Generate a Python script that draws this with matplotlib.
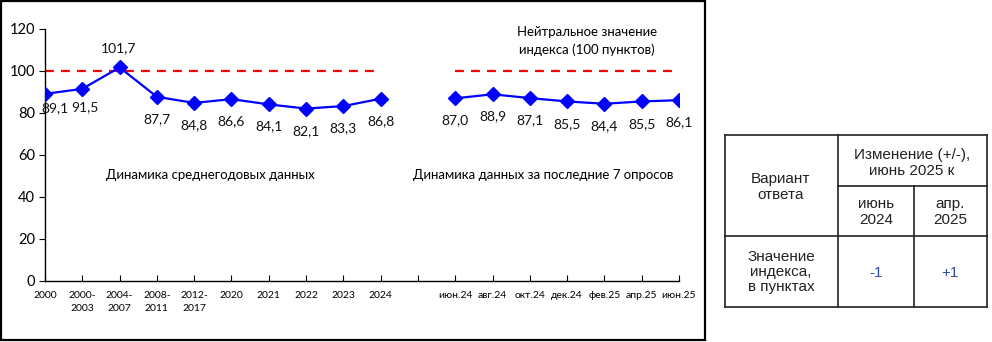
import numpy as np
import matplotlib.pyplot as plt
from matplotlib.lines import Line2D
from matplotlib.patches import Rectangle

# chart data
year_labels = ['2000', '2000-\n2003', '2004-\n2007', '2008-\n2011', '2012-\n2017',
               '2020', '2021', '2022', '2023', '2024']
year_values = [89.1, 91.5, 101.7, 87.7, 84.8, 86.6, 84.1, 82.1, 83.3, 86.8]
survey_labels = ['июн.24', 'авг.24', 'окт.24', 'дек.24', 'фев.25', 'апр.25', 'июн.25']
survey_values = [87.0, 88.9, 87.1, 85.5, 84.4, 85.5, 86.1]
neutral = 100

# table data
table_head = 'Изменение (+/-),\nиюнь 2025 к'
table_cols = ['июнь\n2024', 'апр.\n2025']
table_row = 'Значение\nиндекса,\nв пунктах'
table_vals = ['-1', '+1']

plt.rcParams['font.family'] = ['Lato', 'DejaVu Sans']

W, H = 992, 342
fig = plt.figure(figsize=(W / 100, H / 100), dpi=100)

def fx(px):
    return px / W

def fy(py):
    return 1 - py / H

# outer frame of the chart
fig.add_artist(Rectangle((fx(1), fy(340)), fx(705) - fx(1), fy(1) - fy(340),
                         transform=fig.transFigure, fill=False, ec='black', lw=1.6))

ax = fig.add_axes([fx(45), fy(281), fx(679) - fx(45), fy(29) - fy(281)])

labels = year_labels + [''] + survey_labels
values = year_values + [np.nan] + survey_values
x = np.arange(len(labels))
ref = [neutral if not np.isnan(v) else np.nan for v in values]

ax.plot(x, ref, color='#ff0000', lw=1.6, ls=(0, (4, 3.2)), zorder=2)
ax.plot(x, values, color='#0000ff', lw=1.6, marker='D', ms=7,
        mfc='#0000ff', mec='#0000ff', zorder=3)

offsets = {0: (7, -10), 1: (2, -13), 2: (-1, 14)}
for i, v in enumerate(values):
    if np.isnan(v):
        continue
    dx, dy = offsets.get(i, (0, -16))
    ax.annotate(f'{v:.1f}'.replace('.', ','), (x[i], v), xytext=(dx, dy),
                textcoords='offset points', ha='center', va='center',
                fontsize=10, color='#111111')

ax.set_xlim(0, len(labels) - 1)
ax.set_ylim(0, 120)
ax.set_yticks(range(0, 121, 20))
ax.set_xticks(x)
ax.set_xticklabels(labels, fontsize=7.5, linespacing=1.6)
ax.tick_params(axis='x', direction='in', length=4, pad=7, width=0.8)
ax.tick_params(axis='y', direction='out', length=4, labelsize=10.5, pad=3, width=0.8)
for s in ['top', 'right']:
    ax.spines[s].set_visible(False)
for s in ['left', 'bottom']:
    ax.spines[s].set_linewidth(1.0)

fig.text(fx(210), fy(175), 'Динамика среднегодовых данных', ha='center', va='center', fontsize=9.5)
fig.text(fx(543), fy(175), 'Динамика данных за последние 7 опросов', ha='center', va='center', fontsize=9.5)
fig.text(fx(587), fy(41), 'Нейтральное значение\nиндекса (100 пунктов)', ha='center', va='center',
         fontsize=9.5, linespacing=1.5)

# table
tfont = ['Liberation Sans', 'DejaVu Sans']
xs = [725, 838, 914, 987]
ys = [135, 186, 236, 307]
lc = '#222222'
def hline(x0, x1, y):
    fig.add_artist(Line2D([fx(x0), fx(x1)], [fy(y), fy(y)], color=lc, lw=1.2))
def vline(xp, y0, y1):
    fig.add_artist(Line2D([fx(xp), fx(xp)], [fy(y0), fy(y1)], color=lc, lw=1.2))

hline(xs[0], xs[3], ys[0])
hline(xs[1], xs[3], ys[1])
hline(xs[0], xs[3], ys[2])
hline(xs[0], xs[3], ys[3])
vline(xs[0], ys[0], ys[3])
vline(xs[1], ys[0], ys[3])
vline(xs[2], ys[1], ys[3])
vline(xs[3], ys[0], ys[3])

tkw = dict(ha='center', va='center', fontsize=11, family=tfont, color='#222222', linespacing=1.1)
fig.text(fx(781), fy(187), 'Вариант\nответа', **tkw)
fig.text(fx(912), fy(163), table_head, **tkw)
fig.text(fx(876), fy(212), table_cols[0], **tkw)
fig.text(fx(950), fy(212), table_cols[1], **tkw)
fig.text(fx(781), fy(272), table_row, **tkw)
vkw = dict(tkw)
vkw['color'] = '#2f4f9f'
fig.text(fx(876), fy(273), table_vals[0], **vkw)
fig.text(fx(950), fy(273), table_vals[1], **vkw)

fig.savefig('out.png', dpi=100)
